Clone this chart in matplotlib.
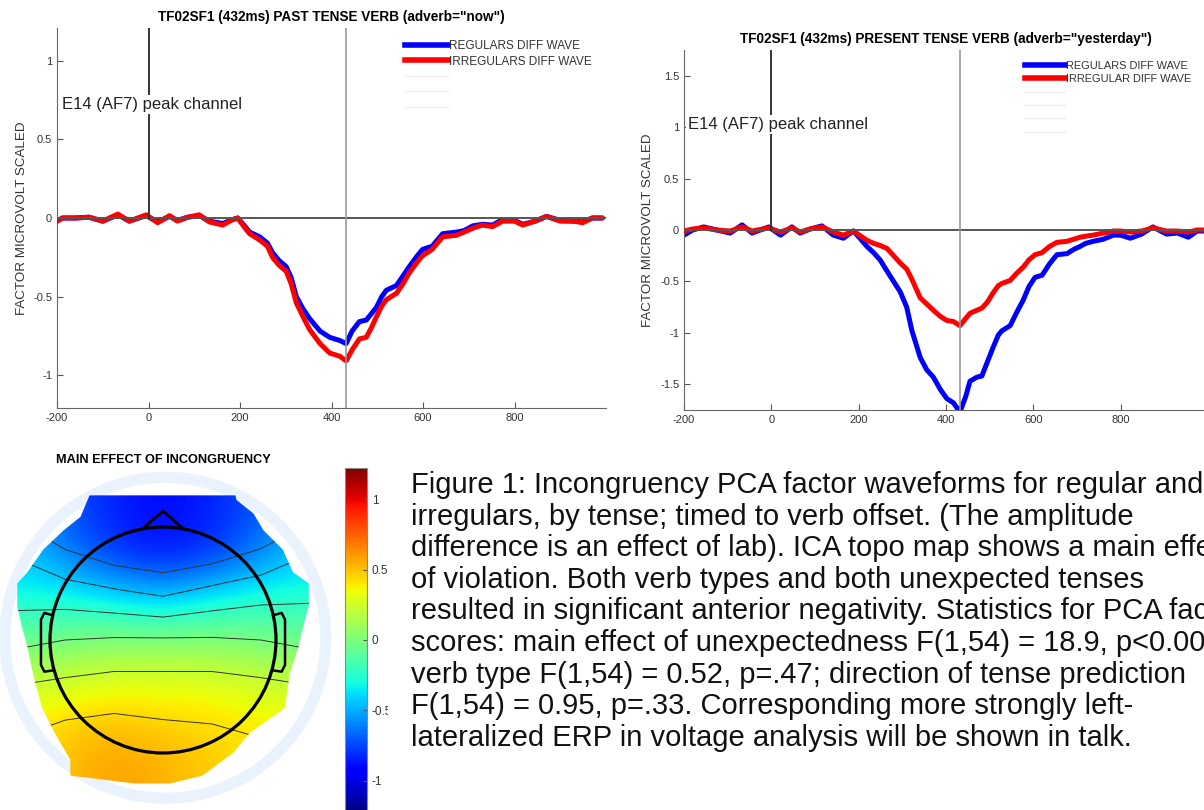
import matplotlib
matplotlib.use("Agg")
import matplotlib.pyplot as plt
import numpy as np
from matplotlib.lines import Line2D
from matplotlib.patches import Circle, Polygon, Rectangle

plt.rcParams["font.family"] = ["Liberation Sans", "DejaVu Sans"]
plt.rcParams["axes.unicode_minus"] = False

W, H = 1204, 810

# past tense panel (adverb "now")
past_t = [-200, -188, -160, -130, -100, -67, -42, -5, 20, 46, 63, 86, 111, 133, 162, 184, 195,
          210, 221, 243, 260, 271, 285, 301, 312, 323, 338, 352, 375, 396, 418, 432, 445, 461,
          476, 487, 498, 510, 520, 542, 556, 570, 585, 599, 620, 643, 673, 690, 709, 730, 752,
          774, 800, 818, 845, 870, 900, 930, 949, 970, 992]
past_regular = [-0.02, 0.0, 0.0, 0.005, -0.02, 0.02, -0.02, 0.015, -0.025, 0.01, -0.015, 0.005,
                0.015, -0.02, -0.035, -0.01, 0.0, -0.05, -0.09, -0.12, -0.16, -0.22, -0.27, -0.31,
                -0.38, -0.50, -0.58, -0.64, -0.72, -0.76, -0.78, -0.80, -0.72, -0.66, -0.65, -0.61,
                -0.57, -0.50, -0.46, -0.43, -0.37, -0.31, -0.25, -0.20, -0.18, -0.10, -0.09, -0.08,
                -0.05, -0.04, -0.045, -0.01, -0.015, -0.04, -0.02, 0.01, -0.015, -0.02, -0.025,
                0.0, 0.0]
past_irregular = [-0.02, 0.0, 0.0, 0.005, -0.02, 0.025, -0.02, 0.02, -0.03, 0.015, -0.02, 0.005,
                  0.02, -0.025, -0.045, -0.01, 0.0, -0.06, -0.10, -0.14, -0.18, -0.25, -0.30,
                  -0.34, -0.42, -0.54, -0.63, -0.71, -0.80, -0.86, -0.88, -0.91, -0.84, -0.77,
                  -0.76, -0.70, -0.63, -0.56, -0.52, -0.48, -0.42, -0.35, -0.29, -0.24, -0.20,
                  -0.12, -0.11, -0.09, -0.065, -0.045, -0.055, -0.02, -0.02, -0.045, -0.02, 0.01,
                  -0.02, -0.02, -0.03, 0.0, 0.0]

# present tense panel (adverb "yesterday")
pres_t = [-200, -180, -155, -125, -94, -67, -44, -6, 21, 47, 66, 89, 116, 142, 165, 188, 205,
          219, 234, 249, 265, 280, 295, 310, 322, 341, 356, 371, 387, 402, 417, 432, 445, 455,
          471, 482, 495, 508, 520, 528, 547, 562, 577, 590, 604, 620, 637, 654, 677, 692, 707,
          720, 737, 760, 783, 800, 822, 848, 874, 905, 930, 955, 975, 1000]
pres_regular = [-0.05, 0.0, 0.03, 0.0, -0.03, 0.05, -0.03, 0.03, -0.05, 0.03, -0.03, 0.01, 0.04,
                -0.05, -0.08, -0.01, -0.09, -0.16, -0.22, -0.29, -0.40, -0.50, -0.60, -0.75,
                -0.98, -1.24, -1.36, -1.43, -1.55, -1.64, -1.68, -1.77, -1.62, -1.47, -1.43,
                -1.42, -1.28, -1.14, -1.02, -0.98, -0.93, -0.80, -0.68, -0.55, -0.46, -0.44,
                -0.33, -0.24, -0.23, -0.19, -0.16, -0.13, -0.11, -0.09, -0.05, -0.05, -0.08,
                -0.04, 0.03, -0.04, -0.03, -0.07, -0.01, -0.01]
pres_irregular = [-0.01, 0.01, 0.02, 0.0, -0.01, 0.03, -0.01, 0.02, -0.02, 0.02, -0.02, 0.01,
                  0.03, -0.02, -0.05, -0.01, -0.06, -0.10, -0.13, -0.15, -0.18, -0.25, -0.32,
                  -0.38, -0.48, -0.66, -0.72, -0.78, -0.84, -0.88, -0.89, -0.93, -0.86, -0.81,
                  -0.78, -0.76, -0.70, -0.61, -0.54, -0.52, -0.49, -0.42, -0.36, -0.29, -0.24,
                  -0.22, -0.16, -0.12, -0.11, -0.09, -0.07, -0.06, -0.05, -0.03, -0.01, -0.01,
                  -0.02, -0.01, 0.02, -0.01, -0.01, -0.02, 0.0, 0.0]

x_ticks = [-200, 0, 200, 400, 600, 800]
peak_ms = 432

# topo map: coarse grid of factor values, rows from front (top) to back (bottom)
topo_values = [
    [-0.60, -0.75, -0.85, -0.90, -0.85, -0.75, -0.60],
    [-0.45, -0.65, -0.80, -0.85, -0.80, -0.65, -0.45],
    [-0.30, -0.32, -0.38, -0.45, -0.35, -0.28, -0.25],
    [-0.05, 0.00, 0.02, 0.02, 0.02, 0.00, -0.05],
    [0.22, 0.26, 0.30, 0.30, 0.30, 0.26, 0.22],
    [0.40, 0.48, 0.50, 0.46, 0.44, 0.40, 0.36],
    [0.44, 0.54, 0.58, 0.54, 0.48, 0.42, 0.38],
]
contour_levels = [-0.6, -0.4, -0.2, 0.0, 0.2, 0.4]
cbar_ticks = [-1, -0.5, 0, 0.5, 1]
cbar_labels = ["-1", "-0.5", "0", "0.5", "1"]

# outline of the interpolated scalp region (head radius units)
topo_outline = [(-0.65, 1.28), (0.64, 1.28), (0.65, 1.24), (0.80, 1.12), (0.89, 0.97),
                (1.06, 0.80), (1.15, 0.60), (1.29, 0.50), (1.29, 0.30), (1.24, 0.12),
                (1.20, -0.06), (1.12, -0.30), (1.08, -0.60), (0.77, -0.82), (0.62, -1.00),
                (0.35, -1.20), (0.06, -1.27), (-0.25, -1.27), (-0.82, -1.20), (-0.82, -1.06),
                (-0.96, -0.82), (-1.07, -0.60), (-1.12, -0.42), (-1.15, -0.30), (-1.20, -0.06),
                (-1.25, 0.12), (-1.29, 0.30), (-1.29, 0.50), (-1.20, 0.60), (-1.06, 0.80),
                (-0.88, 0.97), (-0.73, 1.09), (-0.65, 1.28)]

caption_lines = [
    "Figure 1: Incongruency PCA factor waveforms for regular and",
    "irregulars, by tense; timed to verb offset. (The amplitude",
    "difference is an effect of lab). ICA topo map shows a main effect",
    "of violation. Both verb types and both unexpected tenses",
    "resulted in significant anterior negativity. Statistics for PCA factor",
    "scores: main effect of unexpectedness F(1,54) = 18.9, p<0.001;",
    "verb type F(1,54) = 0.52, p=.47; direction of tense prediction",
    "F(1,54) = 0.95, p=.33. Corresponding more strongly left-",
    "lateralized ERP in voltage analysis will be shown in talk.",
]


def px_box(left, top, right, bottom):
    return [left / W, 1 - bottom / H, (right - left) / W, (bottom - top) / H]


def draw_wave(ax, t, regular, irregular, ylim, yticks, title, labels, text_y, n_blank,
              legend_px, legend_size):
    ax.plot(t, regular, color="#0000ff", lw=3.6, solid_capstyle="round", zorder=2)
    ax.plot(t, irregular, color="#ff0000", lw=3.6, solid_capstyle="round", zorder=3)
    ax.axhline(0, color="#555555", lw=1.4, zorder=4)
    ax.axvline(peak_ms, color="#999999", lw=1.2, zorder=4)
    ax.plot([0, 0], [0, ylim[1]], color="#333333", lw=1.4, zorder=4)
    ax.text(-190, text_y, "E14 (AF7) peak channel", fontsize=12, color="#222222",
            va="center", zorder=5,
            bbox=dict(facecolor="white", edgecolor="none", pad=1.5))
    ax.set_xlim(-200, 1000)
    ax.set_ylim(*ylim)
    ax.set_xticks(x_ticks)
    ax.set_yticks(yticks)
    ax.set_yticklabels([f"{v:g}" for v in yticks])
    for side in ("top", "right"):
        ax.spines[side].set_visible(False)
    for side in ("left", "bottom"):
        ax.spines[side].set_color("#666666")
    ax.tick_params(direction="in", length=4, labelsize=8, colors="#555555",
                   labelcolor="#333333")
    ax.set_ylabel("FACTOR MICROVOLT SCALED", fontsize=9.6, color="#333333")
    ax.set_title(title, fontsize=9.8, fontweight="bold", pad=5)
    handles = [Line2D([], [], color="#0000ff", lw=4), Line2D([], [], color="#ff0000", lw=4)]
    handles += [Line2D([], [], color="#eeeeee", lw=1) for _ in range(n_blank)]
    ax.legend(handles, labels + [" "] * n_blank, loc="upper left", frameon=False,
              bbox_to_anchor=(legend_px[0] / W, 1 - legend_px[1] / H),
              bbox_transform=fig.transFigure, borderaxespad=0, borderpad=0,
              fontsize=legend_size, handlelength=3.6, labelspacing=0.3, handletextpad=0.15,
              labelcolor="#333333")


fig = plt.figure(figsize=(W / 100, H / 100), dpi=100)

ax1 = fig.add_axes(px_box(57, 28, 606, 408))
draw_wave(ax1, past_t, past_regular, past_irregular, (-1.21, 1.21), [-1, -0.5, 0, 0.5, 1],
          'TF02SF1 (432ms) PAST TENSE VERB (adverb="now")',
          ["REGULARS DIFF WAVE", "IRREGULARS DIFF WAVE"], 0.72, 3, (405, 40), 8.5)

ax2 = fig.add_axes(px_box(684, 50, 1208, 410))
draw_wave(ax2, pres_t, pres_regular, pres_irregular, (-1.75, 1.75), [-1.5, -1, -0.5, 0, 0.5, 1, 1.5],
          'TF02SF1 (432ms) PRESENT TENSE VERB (adverb="yesterday")',
          ["REGULARS DIFF WAVE", "IRREGULAR DIFF WAVE"], 1.03, 4, (1025, 61), 7.9)

# topo map, head centre at (163, 640) px, radius 113 px
axt = fig.add_axes(px_box(0, 470, 340, 810))
axt.set_xlim(-163 / 113, 177 / 113)
axt.set_ylim(-170 / 113, 170 / 113)
axt.axis("off")
axt.add_patch(Circle((0.02, 0.02), 1.42, fill=False, lw=8, color="#eaf2fd", zorder=0))
im = axt.imshow(np.array(topo_values), cmap="jet", vmin=-1.22, vmax=1.22,
                extent=(-1.3, 1.3, -1.3, 1.3), origin="upper", interpolation="bicubic",
                zorder=1)
clip = Polygon(topo_outline, closed=True, transform=axt.transData, facecolor="none",
               edgecolor="none")
axt.add_patch(clip)
im.set_clip_path(clip)
gx = np.linspace(-1.3, 1.3, len(topo_values[0]))
gy = np.linspace(1.3, -1.3, len(topo_values))
cs = axt.contour(gx, gy, np.array(topo_values), levels=contour_levels, colors="#333333",
                 linewidths=0.7, linestyles="solid", zorder=2)
cs.set_clip_path(clip)
axt.add_patch(Circle((0, 0), 1.0, fill=False, lw=2.3, color="black", zorder=3))
axt.plot([-0.18, 0.0, 0.18], [0.985, 1.14, 0.985], color="black", lw=2, zorder=3)
ear = np.array([(0.98, 0.22), (1.05, 0.24), (1.08, 0.18), (1.08, -0.22), (1.05, -0.28),
                (0.98, -0.27)])
axt.plot(ear[:, 0], ear[:, 1], color="black", lw=1.8, zorder=3)
axt.plot(-ear[:, 0], ear[:, 1], color="black", lw=1.8, zorder=3)
fig.text(163 / W, 1 - 460 / H, "MAIN EFFECT OF INCONGRUENCY", fontsize=9.2,
         fontweight="bold", ha="center", va="center")

cax = fig.add_axes(px_box(345, 468, 367, 812))
cb = fig.colorbar(im, cax=cax, ticks=cbar_ticks)
cb.set_ticklabels(cbar_labels)
cb.outline.set_edgecolor("#888888")
cax.tick_params(direction="in", length=3, labelsize=8.5, colors="#555555", labelcolor="#333333")
fig.patches.append(Rectangle((388 / W, 0), 14 / W, 1 - 455 / H, transform=fig.transFigure,
                             facecolor="white", edgecolor="none", zorder=10))

# caption runs past the right edge, as in the source slide
for i, line in enumerate(caption_lines):
    fig.text(411 / W, 1 - (485 + 31.6 * i) / H, line, fontsize=21, color="#111111",
             va="center", ha="left")

fig.savefig("out.png", dpi=100)
